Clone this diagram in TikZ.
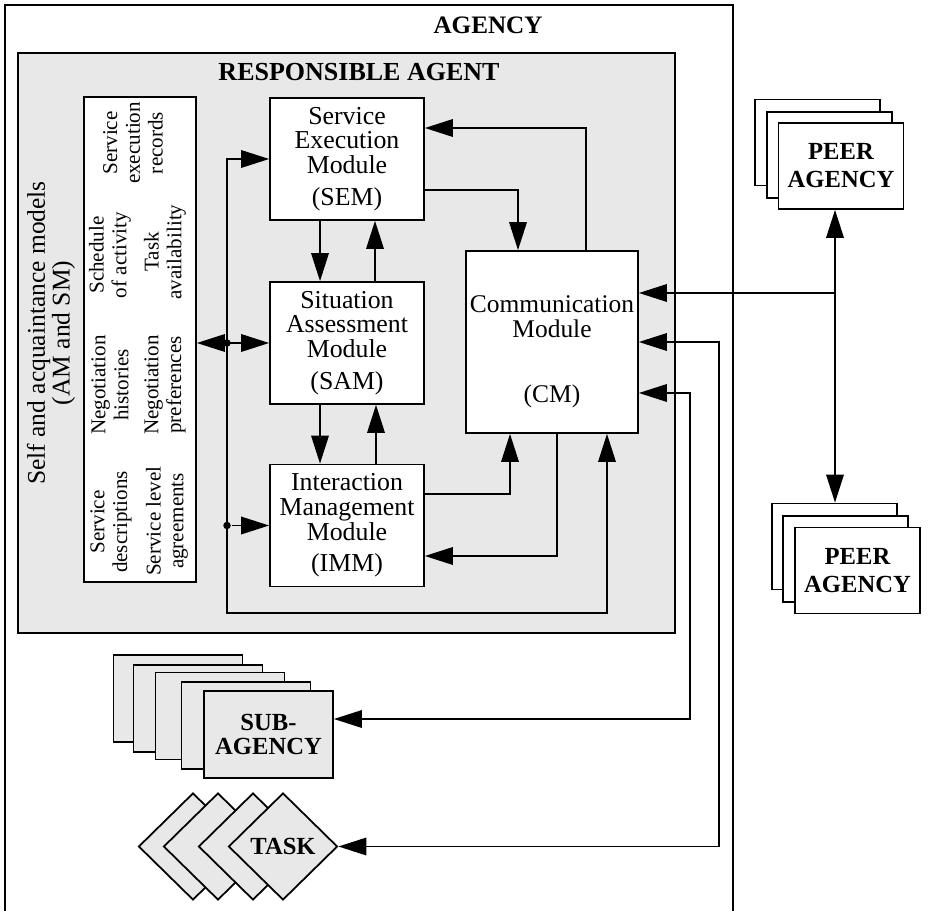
\documentclass[tikz,border=0pt]{standalone}
\usepackage{fontspec}
\setmainfont{Liberation Serif}
\usetikzlibrary{arrows.meta,shapes.geometric,positioning}

\begin{document}
\begin{tikzpicture}[>={Triangle[length=16pt,width=10pt]},line width=1pt,
                    x=0.02cm,y=-0.02cm,
                    module/.style={draw,fill=white,align=center,
                      minimum width=3.08cm,minimum height=2.44cm,
                      font=\fontsize{14.7}{14}\selectfont},
                    titletext/.style={font=\bfseries\fontsize{14.3}{14}\selectfont},
                    recordtext/.style={rotate=90,align=center,
                      font=\fontsize{12}{13}\selectfont},
                    peerbox/.style={draw,fill=white,align=center,
                      minimum width=2.5cm,minimum height=1.72cm,
                      font=\bfseries\fontsize{14}{16}\selectfont},
                    subbox/.style={draw,fill=gray!18,align=center,
                      minimum width=2.58cm,minimum height=1.74cm,
                      font=\bfseries\fontsize{14}{14}\selectfont},
                    taskbox/.style={draw,fill=gray!18,diamond,inner sep=0pt,
                      minimum width=2.18cm,minimum height=2.14cm,
                      font=\bfseries\fontsize{14}{14}\selectfont},
                    junction/.style={circle,fill,inner sep=0pt,minimum size=0.15cm}]

  \useasboundingbox (0,0) rectangle (939,911);

  % agency frame
  \draw (5,925) -- (5,5) -- (733,5) -- (733,925);
  \node[titletext] (agency) at (488,25) {AGENCY};

  % responsible agent
  \node[draw,fill=gray!18,minimum width=13.14cm,minimum height=11.6cm] (ragent) at (346.5,343) {};
  \node[titletext,font=\bfseries\fontsize{14.8}{14}\selectfont] (ratitle) at (359,72) {RESPONSIBLE AGENT};

  \node[rotate=90,align=center,font=\fontsize{14.5}{14}\selectfont] (selfam) at (51,333)
       {Self and acquaintance models\\(AM and SM)};

  \node[draw,fill=white,minimum width=2.24cm,minimum height=9.7cm] (models) at (140,339.5) {};
  \node[recordtext] (records) at (133,143) {Service\\execution\\records};
  \node[recordtext] (sched)   at (110,255) {Schedule\\of activity};
  \node[recordtext] (avail)   at (165,252) {Task\\availability};
  \node[recordtext] (nhist)   at (110,385) {Negotiation\\histories};
  \node[recordtext] (npref)   at (165,385) {Negotiation\\preferences};
  \node[recordtext] (sdesc)   at (111,522) {Service\\descriptions};
  \node[recordtext] (sla)     at (167,521) {Service level\\agreements};

  \node[module] (sem) at (347,159)   {Service\\Execution\\Module\\[4pt](SEM)};
  \node[module] (sam) at (347,343)   {Situation\\Assessment\\Module\\[4pt](SAM)};
  \node[module] (imm) at (347,525.5) {Interaction\\Management\\Module\\[4pt](IMM)};
  \node[module,minimum width=3.44cm,minimum height=3.64cm] (cm) at (552,342) {};
  \node[align=center,font=\fontsize{14.5}{14}\selectfont] (cmlabel) at (552,352)
       {Communication\\Module\\[23pt](CM)};

  \node[junction] (j1) at (227,343) {};
  \node[junction] (j2) at (227,525.5) {};

  % peer agencies
  \node[peerbox] (peerA3) at (817.5,142.5) {};
  \node[peerbox] (peerA2) at (829.5,155) {};
  \node[peerbox] (peerA1) at (841,166) {PEER\\AGENCY};
  \node[peerbox] (peerB3) at (834.5,546.5) {};
  \node[peerbox] (peerB2) at (845.5,559) {};
  \node[peerbox] (peerB1) at (857.5,570.5) {PEER\\AGENCY};

  % sub-agencies and tasks
  \node[subbox] (sub5) at (178,698.5) {};
  \node[subbox] (sub4) at (198,708.5) {};
  \node[subbox] (sub3) at (220,716) {};
  \node[subbox] (sub2) at (246,725.5) {};
  \node[subbox] (sub1) at (268.5,734.5) {SUB-\\AGENCY};

  \node[taskbox] (task4) at (193,846.5) {};
  \node[taskbox] (task3) at (218,846.5) {};
  \node[taskbox] (task2) at (253,846.5) {};
  \node[taskbox] (task1) at (283,846.5) {TASK};

  \coordinate (busbot)   at (227,613);
  \coordinate (peerjoin) at (835,293);

  % module links
  \draw[->] ([xshift=-0.54cm]sem.south) -- ([xshift=-0.54cm]sam.north);
  \draw[->] ([xshift=0.56cm]sam.north)  -- ([xshift=0.56cm]sem.south);
  \draw[->] ([xshift=-0.54cm]sam.south) -- ([xshift=-0.54cm]imm.north);
  \draw[->] ([xshift=0.58cm]imm.north)  -- ([xshift=0.58cm]sam.south);

  \draw[->] ([xshift=0.68cm]cm.north) |- ([yshift=0.62cm]sem.east);
  \draw[->] ([yshift=-0.62cm]sem.east) -| ([xshift=-0.68cm]cm.north);
  \draw[->] ([yshift=0.63cm]imm.east) -| ([xshift=-0.84cm]cm.south);
  \draw[->] ([xshift=0.1cm]cm.south) |- ([yshift=-0.61cm]imm.east);

  % bus
  \draw[<->] (sem.west) -| (busbot) -| ([xshift=1.1cm]cm.south);
  \draw[<->] (models.east |- j1) -- (sam.west);
  \draw[->] (j2) -- (imm.west);

  % outside links
  \draw[<->] (peerA1.south -| peerjoin) -- (peerB3.north -| peerjoin);
  \draw[->] (peerjoin) -- (cm.east |- peerjoin);
  \draw[<->] ([yshift=0.31cm]sub1.east) -| ([xshift=1.02cm,yshift=-1.02cm]cm.east)
             -- ([yshift=-1.02cm]cm.east);
  \draw[<->] (task1.east) -| ([xshift=1.6cm]cm.east) -- (cm.east);
\end{tikzpicture}
\end{document}
